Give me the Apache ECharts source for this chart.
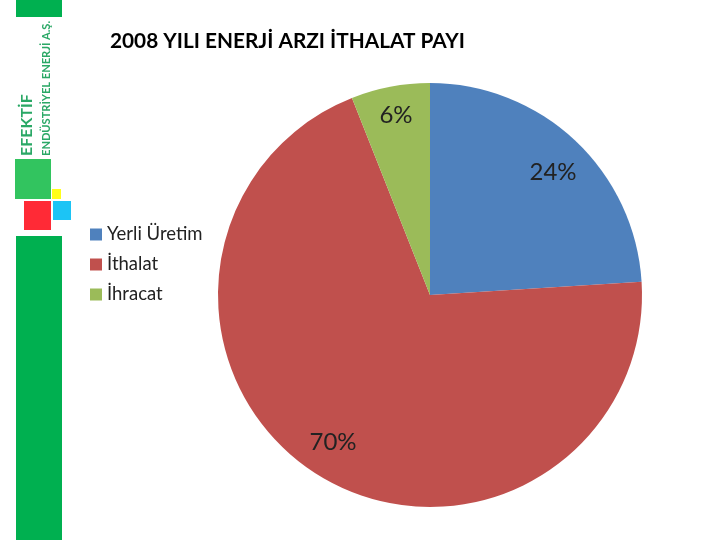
<!DOCTYPE html>
<html>
<head>
<meta charset="utf-8">
<style>
html, body { margin: 0; padding: 0; background: #fff; }
#chart { width: 720px; height: 540px; }
</style>
<script src="https://cdn.jsdelivr.net/npm/echarts@6/dist/echarts.min.js"></script>
</head>
<body>
<div id="chart"></div>
<script>
var titleText = '2008 YILI ENERJİ ARZI İTHALAT PAYI';
var categories = ['Yerli Üretim', 'İthalat', 'İhracat'];
var shares = [24, 70, 6];
var colors = ['#4f81bd', '#c0504d', '#9bbb59'];
var logoName = 'EFEKTİF';
var logoSub = 'ENDÜSTRİYEL ENERJİ A.Ş.';

var labelPos = [[553, 172], [333, 442], [396, 115]];
var font = 'Lato, "Open Sans", sans-serif';

var myChart = echarts.init(document.getElementById('chart'));

var pieData = [];
for (var i = 0; i < categories.length; i++) {
    pieData.push({ name: categories[i], value: shares[i], itemStyle: { color: colors[i] } });
}

function box(x, y, w, h, fill) {
    return { type: 'rect', shape: { x: x, y: y, width: w, height: h }, style: { fill: fill } };
}

var option = {
    animation: false,
    backgroundColor: '#fff',
    title: {
        text: titleText,
        left: 105,
        top: 26,
        textStyle: { fontFamily: font, fontSize: 20.8, fontWeight: 'bold', color: '#000' }
    },
    legend: {
        orient: 'vertical',
        left: 85,
        top: 220,
        itemWidth: 12,
        itemHeight: 12,
        itemGap: 11,
        icon: 'rect',
        textStyle: { fontFamily: font, fontSize: 18.5, color: '#222' },
        data: categories
    },
    graphic: [
        box(16, 0, 46, 17, '#00b050'),
        box(16, 236, 46, 304, '#00b050'),
        box(15, 159, 36, 40, '#32c45f'),
        box(24, 201, 27, 29, '#ff2a36'),
        box(53, 201, 18, 19, '#1cc4f5'),
        box(52, 189, 9, 10, '#ffff1a'),
        {
            type: 'text',
            x: 19,
            y: 156,
            rotation: Math.PI / 2,
            style: { text: logoName, fontFamily: font, fontSize: 16, fontWeight: 'bold', fill: '#2aa866' }
        },
        {
            type: 'text',
            x: 41,
            y: 156,
            rotation: Math.PI / 2,
            style: { text: logoSub, fontFamily: font, fontSize: 11.1, fontWeight: 'bold', fill: '#2aa866' }
        }
    ],
    series: [{
        type: 'pie',
        center: [430, 295],
        radius: 212,
        startAngle: 90,
        clockwise: true,
        data: pieData,
        itemStyle: { borderWidth: 0 },
        label: {
            position: 'inside',
            formatter: function (p) { return p.value + '%'; },
            fontFamily: font,
            fontSize: 24,
            color: '#222'
        },
        labelLine: { show: false },
        labelLayout: function (p) {
            var pos = labelPos[p.dataIndex];
            return { x: pos[0], y: pos[1], align: 'center', verticalAlign: 'middle' };
        },
        emphasis: { disabled: true }
    }]
};

option && myChart.setOption(option);
</script>
</body>
</html>
